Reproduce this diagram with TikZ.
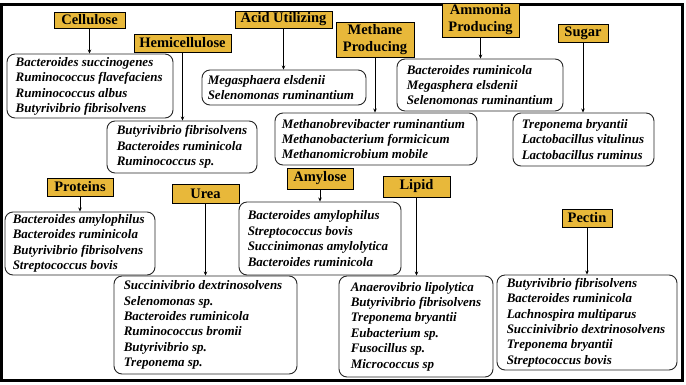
\documentclass[tikz,border=0pt]{standalone}
\usepackage{fontspec}
\setmainfont{Liberation Serif}
\usetikzlibrary{arrows.meta}
\definecolor{labgold}{RGB}{232,184,58}
\tikzset{
  list/.style={draw=black!85, line width=0.9pt, rounded corners=8pt, inner sep=0pt},
  txt/.style={anchor=west, inner sep=0pt, align=left,
    font=\fontsize{13}{15.4}\selectfont\bfseries\itshape},
  lab/.style={draw=black, line width=0.8pt, fill=labgold, inner sep=0pt, align=center,
    font=\fontsize{14.5}{17}\selectfont\bfseries},
  arr/.style={line width=0.8pt, -{Stealth[length=4pt,width=3.5pt]}}
}
\begin{document}
\begin{tikzpicture}[x=1pt,y=-1pt]
\useasboundingbox (0,0) rectangle (686,384);
\fill[white] (0,0) rectangle (686,384);
\draw[line width=3pt] (1.5,4) rectangle (682,380.5);

% boxes
\node[list, minimum width=166pt, minimum height=64pt] (b1) at (90,86) {};
\node[list, minimum width=150pt, minimum height=52pt] (b2) at (182,147) {};
\node[list, minimum width=164pt, minimum height=35pt] (b3) at (284,87.5) {};
\node[list, minimum width=202pt, minimum height=52pt] (b4) at (376,139) {};
\node[list, minimum width=166pt, minimum height=52pt] (b5) at (480,85) {};
\node[list, minimum width=141pt, minimum height=53pt] (b6) at (583.5,139.5) {};
\node[list, minimum width=150pt, minimum height=63pt] (b7) at (80,243.5) {};
\node[list, minimum width=183pt, minimum height=98pt] (b8) at (205.5,325) {};
\node[list, minimum width=162pt, minimum height=73pt] (b9) at (320,238.5) {};
\node[list, minimum width=154pt, minimum height=101pt] (b10) at (416,326.5) {};
\node[list, minimum width=180pt, minimum height=95pt] (b11) at (587,322.5) {};

% texts
\node[txt] (t1) at ([xshift=9pt,yshift=-0.5pt]b1.west)
  {Bacteroides succinogenes\\Ruminococcus flavefaciens\\Ruminococcus albus\\Butyrivibrio fibrisolvens};
\node[txt] (t2) at ([xshift=10pt]b2.west)
  {Butyrivibrio fibrisolvens\\Bacteroides ruminicola\\Ruminococcus sp.};
\node[txt] (t3) at ([xshift=6pt]b3.west)
  {Megasphaera elsdenii\\Selenomonas ruminantium};
\node[txt] (t4) at ([xshift=7pt]b4.west)
  {Methanobrevibacter ruminantium\\Methanobacterium formicicum\\Methanomicrobium mobile};
\node[txt] (t5) at ([xshift=10pt]b5.west)
  {Bacteroides ruminicola\\Megasphera elsdenii\\Selenomonas ruminantium};
\node[txt] (t6) at ([xshift=9pt]b6.west)
  {Treponema bryantii\\Lactobacillus vitulinus\\Lactobacillus ruminus};
\node[txt] (t7) at ([xshift=8pt]b7.west)
  {Bacteroides amylophilus\\Bacteroides ruminicola\\Butyrivibrio fibrisolvens\\Streptococcus bovis};
\node[txt] (t8) at ([xshift=10pt]b8.west)
  {Succinivibrio dextrinosolvens\\Selenomonas sp.\\Bacteroides ruminicola\\Ruminococcus bromii\\Butyrivibrio sp.\\Treponema sp.};
\node[txt] (t9) at ([xshift=9pt]b9.west)
  {Bacteroides amylophilus\\Streptococcus bovis\\Succinimonas amylolytica\\Bacteroides ruminicola};
\node[txt] (t10) at ([xshift=12pt]b10.west)
  {Anaerovibrio lipolytica\\Butyrivibrio fibrisolvens\\Treponema bryantii\\Eubacterium sp.\\Fusocillus sp.\\Micrococcus sp};
\node[txt] (t11) at ([xshift=10pt]b11.west)
  {Butyrivibrio fibrisolvens\\Bacteroides ruminicola\\Lachnospira multiparus\\Succinivibrio dextrinosolvens\\Treponema bryantii\\Streptococcus bovis};

% labels
\node[lab, minimum width=71pt, minimum height=16pt] (l1) at (89.5,20) {Cellulose};
\node[lab, minimum width=97pt, minimum height=18pt] (l2) at (182.5,43) {Hemicellulose};
\node[lab, minimum width=97pt, minimum height=17pt] (l3) at (283.5,19.5) {Acid Utilizing};
\node[lab, minimum width=78pt, minimum height=35pt] (l4) at (375,39.5) {Methane\\Producing};
\node[lab, minimum width=77pt, minimum height=34pt] (l5) at (480.5,20) {Ammonia\\Producing};
\node[lab, minimum width=50pt, minimum height=18pt] (l6) at (583,33) {Sugar};
\node[lab, minimum width=66pt, minimum height=18pt] (l7) at (80,187) {Proteins};
\node[lab, minimum width=67pt, minimum height=19pt] (l8) at (205.5,193.5) {Urea};
\node[lab, minimum width=66pt, minimum height=21pt] (l9) at (320,178.5) {Amylose};
\node[lab, minimum width=67pt, minimum height=21pt] (l10) at (416.5,186.5) {Lipid};
\node[lab, minimum width=50pt, minimum height=18pt] (l11) at (587,218) {Pectin};

% arrows
\foreach \l/\b in {l1/b1,l2/b2,l3/b3,l4/b4,l5/b5,l6/b6,l7/b7,l8/b8,l9/b9,l10/b10,l11/b11}
  \draw[arr] (\l.south) -- (\l.south |- \b.north);
\end{tikzpicture}
\end{document}
